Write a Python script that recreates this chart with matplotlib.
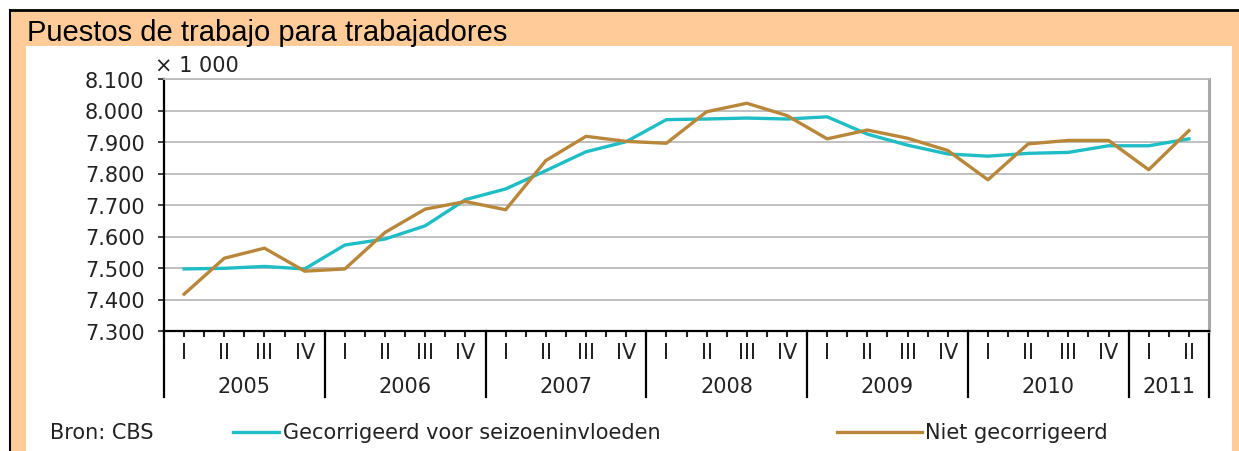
import numpy as np
import matplotlib
matplotlib.use("Agg")
import matplotlib.pyplot as plt
import matplotlib.transforms as mtransforms
from matplotlib.patches import Rectangle
from matplotlib.lines import Line2D
from matplotlib.ticker import FuncFormatter

# data: banen van werknemers (x 1 000), per kwartaal 2005 I - 2011 II
years = ['2005', '2006', '2007', '2008', '2009', '2010', '2011']
quarters_per_year = [4, 4, 4, 4, 4, 4, 2]
quarter_names = ['I', 'II', 'III', 'IV']

gecorrigeerd = [7497, 7499, 7505, 7497,
                7573, 7592, 7634, 7717,
                7751, 7809, 7869, 7901,
                7971, 7973, 7976, 7973,
                7980, 7925, 7890, 7862,
                7855, 7864, 7867, 7888,
                7888, 7910]
niet_gecorrigeerd = [7417, 7531, 7563, 7490,
                     7497, 7613, 7687, 7711,
                     7685, 7841, 7918, 7902,
                     7896, 7996, 8023, 7984,
                     7910, 7938, 7912, 7873,
                     7780, 7894, 7905, 7905,
                     7812, 7936]

label_corr = 'Gecorrigeerd voor seizoeninvloeden'
label_niet = 'Niet gecorrigeerd'

W, H = 1239, 452
cyan = '#1FBDC6'
brown = '#B9873A'
orange_bg = '#FFCC99'
txt = '#222222'
fs = 15

def fx(x):
	return x / W

def fy(y):
	return 1 - y / H

fig = plt.figure(figsize=(W / 100, H / 100), dpi=100, facecolor='white')

# orange frame with white inner panel
fig.patches.append(Rectangle((fx(10), 0), 1 - fx(10), fy(11), transform=fig.transFigure,
							 facecolor=orange_bg, edgecolor='none', zorder=-3))
fig.patches.append(Rectangle((fx(26), 0), fx(1232) - fx(26), fy(47), transform=fig.transFigure,
							 facecolor='white', edgecolor='none', zorder=-2))
fig.add_artist(Line2D([fx(10), 1], [fy(11), fy(11)], color='black', lw=2))
fig.add_artist(Line2D([fx(10), fx(10)], [0, fy(11)], color='black', lw=1.5))

fig.text(fx(27), fy(41), 'Puestos de trabajo para trabajadores', fontsize=21,
		 family='Liberation Sans', va='baseline', color='black')

ax = fig.add_axes([fx(164), fy(332), fx(1209) - fx(164), (332 - 80) / H])
ax.set_facecolor('white')

x = np.arange(len(gecorrigeerd))
ax.plot(x, gecorrigeerd, color=cyan, lw=2.4, zorder=3)
ax.plot(x, niet_gecorrigeerd, color=brown, lw=2.4, zorder=4)

ax.set_xlim(-0.5, len(x) - 0.5)
ax.set_ylim(7300, 8100)
ax.set_yticks(np.arange(7300, 8101, 100))
ax.yaxis.set_major_formatter(FuncFormatter(lambda v, p: f'{int(v):,}'.replace(',', '.')))
ax.yaxis.grid(True, color='#BBBBBB', lw=1.3)
ax.set_axisbelow(True)

ax.tick_params(axis='y', length=4, width=1.2, pad=10, labelsize=fs, labelcolor=txt, color=txt)
ax.set_xticks(np.arange(-0.5, len(x), 0.5))
ax.set_xticklabels([])
ax.tick_params(axis='x', length=4, width=1.5, color=txt)

for s in ['left', 'bottom']:
	ax.spines[s].set_color('black')
	ax.spines[s].set_linewidth(1.6)
ax.spines['top'].set_color('#BBBBBB')
ax.spines['top'].set_linewidth(1.3)
ax.spines['right'].set_color('#A8A8A8')
ax.spines['right'].set_linewidth(2.2)

# category axis: quarters, years and separators
trans = mtransforms.blended_transform_factory(ax.transData, ax.transAxes)
for i in x:
	ax.text(i, -0.085, quarter_names[i % 4], transform=trans, ha='center', va='center',
			fontsize=fs, color=txt)

bounds = np.concatenate([[0], np.cumsum(quarters_per_year)]) - 0.5
for b in bounds:
	ax.plot([b, b], [0, -0.262], transform=trans, color='black', lw=1.6, clip_on=False)
for k, yr in enumerate(years):
	ax.text((bounds[k] + bounds[k + 1]) / 2, -0.218, yr, transform=trans, ha='center',
			va='center', fontsize=fs, color=txt)

fig.text(fx(155), fy(72), '\u00d7 1 000', fontsize=fs, color=txt, va='baseline')

# legend row
ly = fy(433)
fig.text(fx(50), ly, 'Bron: CBS', fontsize=fs, color=txt, va='center')
fig.add_artist(Line2D([fx(233), fx(279)], [ly, ly], color=cyan, lw=2.4))
fig.text(fx(283), ly, label_corr, fontsize=fs, color=txt, va='center')
fig.add_artist(Line2D([fx(837), fx(922)], [ly, ly], color=brown, lw=2.4))
fig.text(fx(925), ly, label_niet, fontsize=fs, color=txt, va='center')

plt.savefig('out.png', dpi=100, facecolor=fig.get_facecolor())
